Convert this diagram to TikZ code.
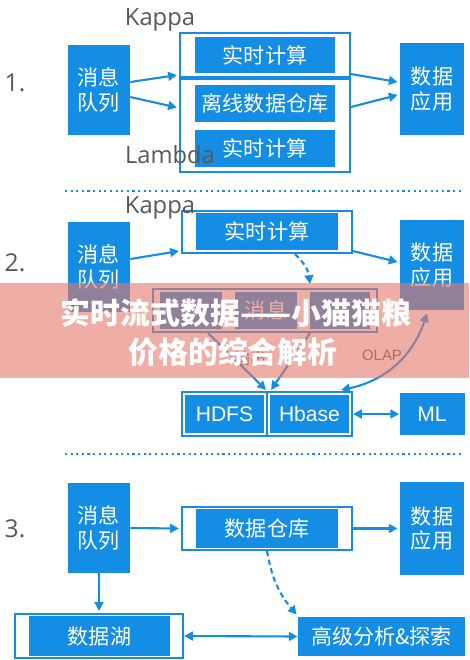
\documentclass[tikz,border=0pt]{standalone}
\usepackage{fontspec}
\setmainfont{Noto Sans CJK SC}
\newfontfamily\latin{Open Sans}
\newfontfamily\arial{Liberation Sans}
\usetikzlibrary{arrows.meta,calc}
\definecolor{kblue}{RGB}{20,142,228}
\definecolor{ktext}{RGB}{88,88,88}
\definecolor{kbanner}{RGB}{228,120,105}
\tikzset{
  sz/.style 2 args={minimum width=#1*0.2mm, minimum height=#2*0.2mm},
  blk/.style={fill=kblue, text=white, inner sep=0pt, font=\fontsize{12}{14}\selectfont},
  eng/.style={blk, font=\arial\fontsize{12}{14}\selectfont},
  frm/.style={draw=kblue, line width=1.2pt, inner sep=0pt},
  tip/.style={-{Triangle[length=5pt,width=5pt]}},
  arr/.style={draw=kblue, line width=1.2pt, tip},
  darr/.style={draw=kblue, line width=1.2pt, {Triangle[length=5pt,width=5pt]}-{Triangle[length=5pt,width=5pt]}},
  dsh/.style={arr, dash pattern=on 3pt off 2pt},
  lbl/.style={text=ktext, font=\latin\fontsize{13.5}{16}\selectfont, inner sep=0pt},
  num/.style={text=ktext, font=\latin\fontsize{14}{16}\selectfont, inner sep=0pt},
  sep/.style={draw=kblue, line width=1.2pt, dotted},
}
\begin{document}
\begin{tikzpicture}[x=0.2mm, y=-0.2mm]
\useasboundingbox (0,0) rectangle (469,660);

\node[num] (n1) at (15,83) {1.};
\node[blk, sz={62}{90}, align=center] (mq1) at (99,90) {消息\\队列};
\node[frm, sz={170}{44}] (kfr1) at (265,55) {};
\node[frm, sz={170}{93}] (lfr1) at (265,125.5) {};
\node[blk, sz={140}{36}] (rt1a) at (265,55) {实时计算};
\node[blk, sz={140}{37}] (off1) at (265,103) {离线数据仓库};
\node[blk, sz={140}{37}] (rt1b) at (265,148) {实时计算};
\node[blk, sz={64}{92}, align=center] (app1) at (432,89) {数据\\应用};
\node[lbl] (kap1) at (160,20) {Kappa};
\node[lbl] (lam1) at (170,155) {Lambda};
\draw[arr] ($(mq1.east)+(0,-8)$) -- ($(kfr1.south west)+(-2,-3)$);
\draw[arr] ($(mq1.east)+(0,7)$) -- ($(lfr1.west)+(-2,-18)$);
\draw[arr] ($(kfr1.south east)+(0,-4)$) -- ($(app1.west)+(-2,-7)$);
\draw[arr] ($(lfr1.west)+(170,-18)$) -- ($(app1.west)+(-2,6)$);

\coordinate (s1a) at (65,191);
\coordinate (s1b) at (462,191);
\draw[sep] (s1a) -- (s1b);

\node[num] (n2) at (15,263) {2.};
\node[blk, sz={62}{90}, align=center] (mq2) at (99,267) {消息\\队列};
\node[frm, sz={170}{42}] (kfr2) at (267,232) {};
\node[blk, sz={142}{37}] (rt2) at (267,231.5) {实时计算};
\node[blk, sz={64}{90}, align=center] (app2) at (432,265) {数据\\应用};
\node[lbl] (kap2) at (160,208) {Kappa};
\node[frm, sz={224}{43}] (msgfr) at (265,310.5) {};
\node[blk, sz={62}{37}] (s1) at (191,310.5) {};
\node[blk, sz={62}{37}] (s2) at (266,310.5) {消息};
\node[blk, sz={60}{37}] (s3) at (340,310.5) {};
\node[text=ktext, font=\fontsize{9}{11}\selectfont] (out) at (250,358) {输出};
\node[text=ktext, font=\arial\fontsize{8.5}{10}\selectfont] (olap) at (382,355) {OLAP};
\node[frm, sz={85}{44}] (hdfsfr) at (224.5,414) {};
\node[frm, sz={85}{44}] (hbfr) at (309.5,414) {};
\node[eng, sz={79}{38}] (hdfs) at (224.5,414) {HDFS};
\node[eng, sz={79}{38}] (hb) at (309.5,414) {Hbase};
\node[eng, sz={65}{42}] (ml) at (432,414) {ML};
\draw[arr] ($(mq2.east)+(0,-8)$) -- ($(kfr2.south west)+(-2,-3)$);
\draw[arr] ($(kfr2.south east)+(0,-3)$) -- ($(app2.west)+(-2,-3)$);
\draw[dsh] ($(kfr2.south)+(28,0)$) to[bend left=20] ($(msgfr.north)+(45,-4)$);
\draw[arr] ($(msgfr.south)+(-57,0)$) -- ($(hdfsfr.north east)+(-2,-1)$);
\draw[arr] ($(msgfr.south)+(45,0)$) -- ($(hdfsfr.north east)+(3,-1)$);
\draw[darr] ($(hbfr.north east)+(-12,-1)$) to[bend right=30] ($(app2.south)+(-5,3)$);
\draw[darr] (hbfr.east) -- (ml.west);

\coordinate (s2a) at (65,454);
\coordinate (s2b) at (462,454);
\draw[sep] (s2a) -- (s2b);

\node[num] (n3) at (15,529) {3.};
\node[blk, sz={62}{90}, align=center] (mq3) at (99,528) {消息\\队列};
\node[frm, sz={170}{43}] (whfr) at (267,528.5) {};
\node[blk, sz={142}{39}] (wh) at (267,528.5) {数据仓库};
\node[blk, sz={64}{93}, align=center] (app3) at (432,528.5) {数据\\应用};
\node[frm, sz={168}{44}] (lakefr) at (99,636) {};
\node[blk, sz={141}{40}] (lake) at (99.5,636) {数据湖};
\node[blk, sz={167}{39}] (adv) at (381.5,636.5) {高级分析\&探索};
\draw[arr] (mq3.east) -- ($(whfr.west)+(-2,0)$);
\draw[arr] (whfr.east) -- ($(app3.west)+(-2,0)$);
\draw[arr] (mq3.south) -- ($(lakefr.north)+(0,-2)$);
\draw[darr] (lakefr.east) -- (adv.west);
\draw[dsh] (whfr.south) to[bend right=15] ($(adv.north west)+(-1,-2)$);

\fill[kbanner, opacity=0.6] (0,283) rectangle (469,378);
\node[text=white, font=\bfseries\fontsize{17}{20}\selectfont] (ttl1) at (236,313) {实时流式数据——小猫猫粮};
\node[text=white, font=\bfseries\fontsize{17}{20}\selectfont] (ttl2) at (233,352) {价格的综合解析};
\end{tikzpicture}
\end{document}
